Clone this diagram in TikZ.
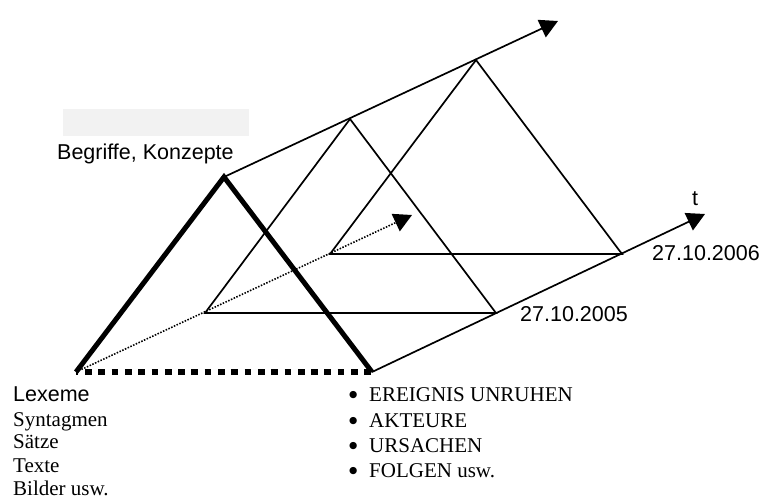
\documentclass[tikz,border=0pt]{standalone}
\usepackage{fontspec}
\setmainfont{Liberation Serif}
\newfontfamily\arialf{Liberation Sans}
\newfontfamily\dejavuf{DejaVu Sans}
\usetikzlibrary{arrows.meta}
\newcommand{\bigbul}{\makebox[21.6pt][l]{\makebox[11.2pt][c]{\raisebox{4pt}{\dejavuf\fontsize{9.5}{10}\selectfont ●}}}}
\begin{document}
\begin{tikzpicture}[x=1pt,y=-1pt,
  boldline/.style={line width=5pt, line join=miter},
  thinline/.style={line width=1.7pt},
  arr/.style={-{Triangle[length=18pt,width=19pt]}},
  lbl/.style={inner sep=0pt, anchor=base west, font=\arialf\fontsize{21.5}{25}\selectfont},
  ser/.style={inner sep=0pt, anchor=base west, font=\fontsize{21}{25}\selectfont}]
\useasboundingbox (0,0) rectangle (762,501);
\fill[black!5] (63,109) rectangle (249,136);
% vertices
\coordinate (L0) at (76,372);
\coordinate (A0) at (224,177);
\coordinate (R0) at (372,372);
\coordinate (L1) at (205,313);
\coordinate (A1) at (350,119);
\coordinate (R1) at (496,313);
\coordinate (L2) at (330,254);
\coordinate (A2) at (476,60);
\coordinate (R2) at (622,254);
\coordinate (TA) at (558,21);
\coordinate (TB) at (705,214);
\coordinate (TC) at (412,215);
% later triangles
\draw[thinline] (L1) -- (A1) -- (R1) -- cycle;
\draw[thinline] (L2) -- (A2) -- (R2) -- cycle;
% time axes
\draw[thinline, arr] (A0) -- (TA);
\draw[thinline, arr] (R0) -- (TB);
\draw[line width=1.6pt, dash pattern=on 1.5pt off 1.5pt, arr] (L0) -- (TC);
% front triangle
\draw[line width=6pt, dash pattern=on 6.7pt off 6.6pt, dash phase=-9pt] (L0) -- (R0);
\draw[boldline] (L0) -- (A0) -- (R0);
% labels
\node[lbl] (begr) at (57,159) {Begriffe, Konzepte};
\node[lbl] (d5) at (520,321) {27.10.2005};
\node[lbl] (d6) at (652,260) {27.10.2006};
\node[lbl, anchor=base] (t) at (695,205) {t};
\node[lbl] (lex) at (13,401) {Lexeme};
\node[ser] (syn) at (13,426) {Syntagmen};
\node[ser] (satz) at (13,448) {Sätze};
\node[ser] (text) at (13,472) {Texte};
\node[ser] (bild) at (13,495) {Bilder usw.};
\node[ser] (e1) at (347.4,401) {\bigbul EREIGNIS UNRUHEN};
\node[ser] (e2) at (347.4,427) {\bigbul AKTEURE};
\node[ser] (e3) at (347.4,452) {\bigbul URSACHEN};
\node[ser] (e4) at (347.4,477) {\bigbul FOLGEN usw.};
\end{tikzpicture}
\end{document}
